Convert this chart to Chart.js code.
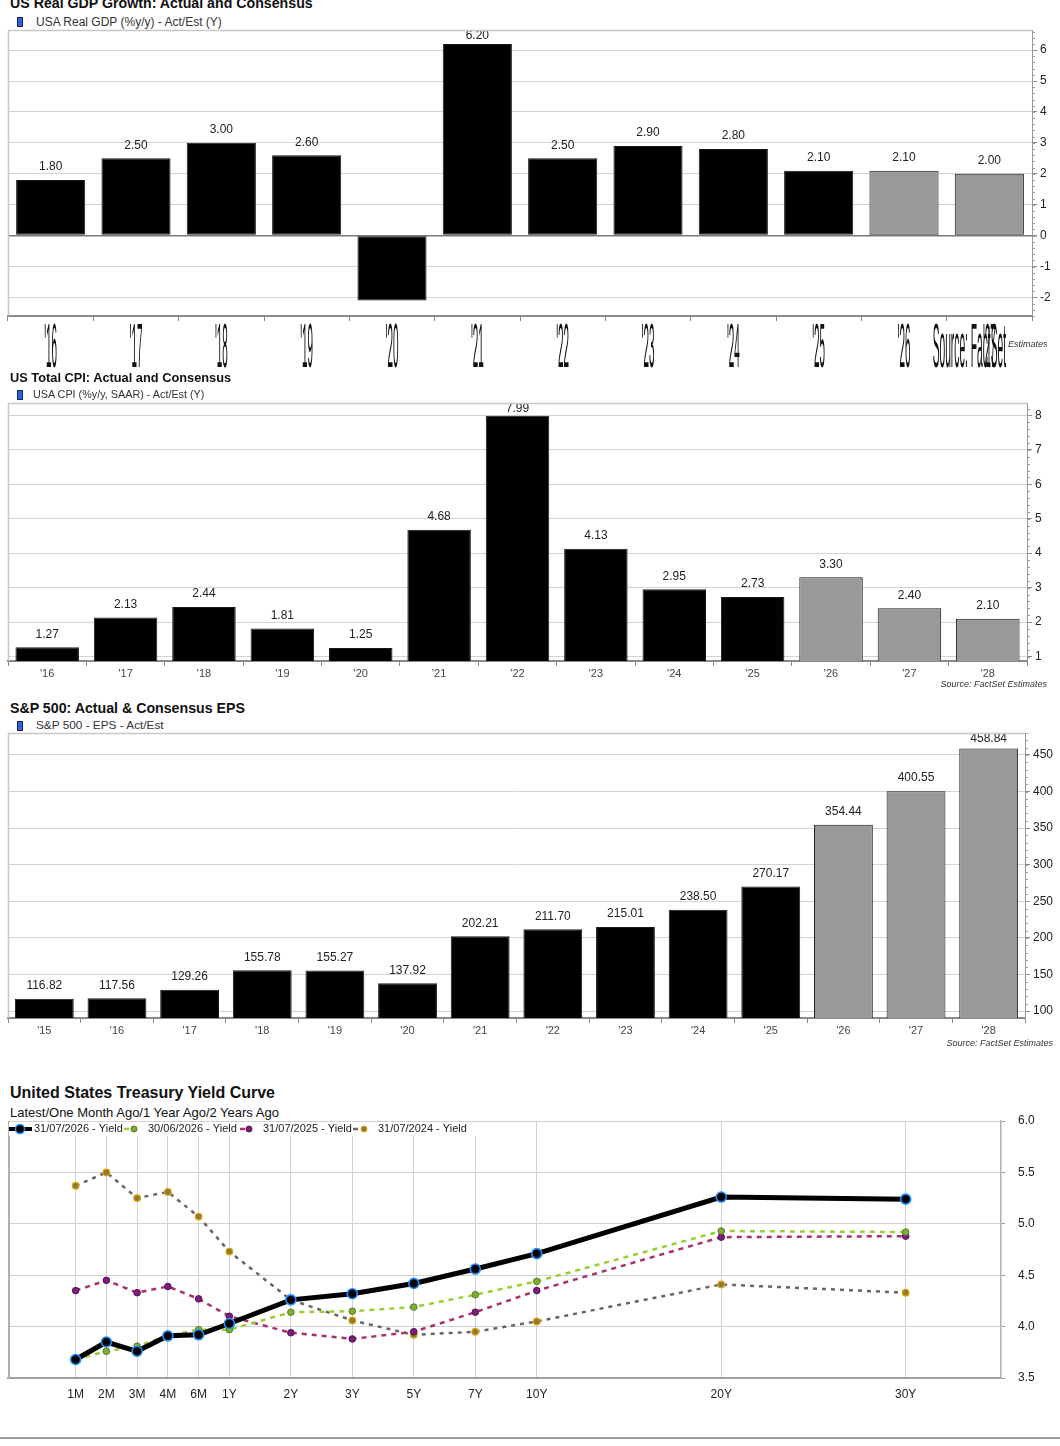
<!DOCTYPE html>
<html><head><meta charset="utf-8">
<script src="https://cdn.jsdelivr.net/npm/chart.js@4.4.1/dist/chart.umd.min.js"></script>
<style>
body{margin:0;background:#fff;width:1060px;height:1446px;position:relative;overflow:hidden;font-family:"Liberation Sans",Arial,Helvetica,sans-serif;}
.abs{position:absolute;white-space:nowrap;line-height:1;}
.title{font-weight:bold;color:#111;transform-origin:left center;}
.leg{color:#333;}
.icon{position:absolute;width:4px;height:8px;background:#2f62d8;border:1px solid #13275e;}
.src{position:absolute;font-style:italic;font-size:9px;color:#333;white-space:nowrap;line-height:1;}
canvas{position:absolute;left:0;}
</style></head><body>

<div class="abs title" style="left:10px;top:-4px;font-size:14.2px;">US Real GDP Growth: Actual and Consensus</div>
<div class="icon" style="left:17px;top:17px;"></div>
<div class="abs leg" style="left:36px;top:16px;font-size:12px;">USA Real GDP (%y/y) - Act/Est (Y)</div>
<canvas id="gdp" width="1060" height="344" style="top:28px;"></canvas>

<div class="abs title" style="left:10px;top:372px;font-size:12.8px;">US Total CPI: Actual and Consensus</div>
<div class="icon" style="left:17px;top:390px;"></div>
<div class="abs leg" style="left:33px;top:389px;font-size:10.8px;">USA CPI (%y/y, SAAR) - Act/Est (Y)</div>
<canvas id="cpi" width="1060" height="300" style="top:400px;"></canvas>
<div class="src" style="right:13px;top:680px;">Source: FactSet Estimates</div>

<div class="abs title" style="left:10px;top:701px;font-size:14.2px;">S&amp;P 500: Actual &amp; Consensus EPS</div>
<div class="icon" style="left:17px;top:721px;"></div>
<div class="abs leg" style="left:36px;top:720px;font-size:11.8px;">S&amp;P 500 - EPS - Act/Est</div>
<canvas id="eps" width="1053" height="330" style="top:730px;"></canvas>
<div class="src" style="right:7px;top:1039px;">Source: FactSet Estimates</div>

<div class="abs title" style="left:10px;top:1085px;font-size:16px;">United States Treasury Yield Curve</div>
<div class="abs" style="left:10px;top:1106px;font-size:13px;color:#111;">Latest/One Month Ago/1 Year Ago/2 Years Ago</div>
<canvas id="ust" width="1060" height="302" style="top:1108px;"></canvas>
<div style="position:absolute;left:0;top:1437px;width:1060px;height:2px;background:#9a9a9a;"></div>

<script>
// ---------------- DATA ----------------
const gdpYears  = ["'16","'17","'18","'19","'20","'21","'22","'23","'24","'25","'26","'27"];
const gdpValues = [1.80, 2.50, 3.00, 2.60, -2.10, 6.20, 2.50, 2.90, 2.80, 2.10, 2.10, 2.00];
const gdpType   = ['A','A','A','A','A','A','A','A','A','A','E','E'];

const cpiYears  = ["'16","'17","'18","'19","'20","'21","'22","'23","'24","'25","'26","'27","'28"];
const cpiValues = [1.27, 2.13, 2.44, 1.81, 1.25, 4.68, 7.99, 4.13, 2.95, 2.73, 3.30, 2.40, 2.10];
const cpiType   = ['A','A','A','A','A','A','A','A','A','A','E','E','E'];

const epsYears  = ["'15","'16","'17","'18","'19","'20","'21","'22","'23","'24","'25","'26","'27","'28"];
const epsValues = [116.82, 117.56, 129.26, 155.78, 155.27, 137.92, 202.21, 211.70, 215.01, 238.50, 270.17, 354.44, 400.55, 458.84];
const epsType   = ['A','A','A','A','A','A','A','A','A','A','A','E','E','E'];

const tenorLabels = ['1M','2M','3M','4M','6M','1Y','2Y','3Y','5Y','7Y','10Y','20Y','30Y'];
const tenorSlots  = [0, 1, 2, 3, 4, 5, 7, 9, 11, 13, 15, 21, 27];
const yieldDates  = ['31/07/2026 - Yield','30/06/2026 - Yield','31/07/2025 - Yield','31/07/2024 - Yield'];
const yieldLatest   = [3.68, 3.85, 3.76, 3.91, 3.92, 4.03, 4.26, 4.32, 4.42, 4.56, 4.71, 5.26, 5.24];
const yieldMonthAgo = [3.68, 3.76, 3.81, 3.91, 3.97, 3.97, 4.14, 4.15, 4.19, 4.31, 4.44, 4.93, 4.92];
const yieldYearAgo  = [4.35, 4.45, 4.33, 4.39, 4.27, 4.10, 3.94, 3.88, 3.95, 4.14, 4.35, 4.87, 4.88];
const yield2YrsAgo  = [5.37, 5.50, 5.25, 5.31, 5.07, 4.73, 4.26, 4.06, 3.92, 3.95, 4.05, 4.41, 4.33];

// ---------------- SETUP ----------------
const FONT = '"Liberation Sans", Arial, Helvetica, sans-serif';
Chart.defaults.font.family = FONT;
Chart.defaults.animation = false;
const ACT = '#000000', EST = '#999999';

function noPad(s){ s.paddingTop = 0; s.paddingBottom = 0; s.paddingLeft = 0; s.paddingRight = 0; }

const framePlugin = {
  id:'frame',
  afterDraw(chart){
    const {ctx, chartArea:a} = chart;
    ctx.save();
    ctx.strokeStyle = '#c8c8c8'; ctx.lineWidth = 1.5;
    ctx.beginPath();
    ctx.moveTo(a.left+0.5, a.bottom); ctx.lineTo(a.left+0.5, a.top+0.5); ctx.lineTo(a.right, a.top+0.5);
    ctx.stroke();
    ctx.restore();
  }
};

function minorPlugin(step){
  return {
    id:'minor',
    afterDraw(chart){
      const s = chart.scales.y, ctx = chart.ctx;
      ctx.save(); ctx.strokeStyle = '#999'; ctx.lineWidth = 1;
      const start = Math.ceil(s.min/step);
      for(let k=start; k*step<=s.max+1e-9; k++){
        const v = k*step;
        const y = Math.round(s.getPixelForValue(v))+0.5;
        ctx.beginPath(); ctx.moveTo(s.left, y); ctx.lineTo(s.left+3, y); ctx.stroke();
      }
      ctx.restore();
    }
  };
}

function labelPlugin(values){
  return {
    id:'vals',
    afterDatasetsDraw(chart){
      const ctx = chart.ctx, a = chart.chartArea;
      const meta = chart.getDatasetMeta(0);
      ctx.save();
      ctx.font = '12px ' + FONT; ctx.fillStyle = '#222';
      ctx.textAlign = 'center'; ctx.textBaseline = 'middle';
      meta.data.forEach((bar,i)=>{
        const v = values[i];
        if (v <= 0) return;
        const y = Math.max(bar.y - 13, a.top + 6);
        ctx.fillText(v.toFixed(2), bar.x, y);
      });
      ctx.restore();
    }
  };
}

function makeBar(id, o){
  const colors = o.types.map(t => t === 'E' ? EST : ACT);
  const plugins = [framePlugin, minorPlugin(o.minor), labelPlugin(o.values)];
  if (o.extra) plugins.push(o.extra);
  return new Chart(document.getElementById(id), {
    type:'bar',
    data:{ labels:o.labels, datasets:[{ data:o.values, backgroundColor:colors, borderColor:'#1a1a1a', borderWidth:1, borderSkipped:false, categoryPercentage:1, barPercentage:0.81 }]},
    options:{
      responsive:false, animation:false, devicePixelRatio:1,
      layout:{padding:{top:o.padTop, left:8, right:0, bottom:0}},
      plugins:{legend:{display:false}, tooltip:{enabled:false}, title:{display:false}},
      scales:{
        x:{
          grid:{offset:true, drawOnChartArea:false, drawTicks:true, tickLength:5, color:'#8a8a8a'},
          border:{display:true, color:'#8a8a8a', width:2},
          ticks:{display:o.showX, font:{size:11}, color:'#444', padding:1, maxRotation:0, autoSkip:false},
          afterFit(s){ s.height = o.xH; noPad(s); }
        },
        y:{
          position:'right', min:o.min, max:o.max,
          ticks:{stepSize:o.step, includeBounds:false, font:{size:12}, color:'#222', padding:3},
          grid:{color:c => (c.tick && c.tick.value === 0) ? '#7a7a7a' : '#d4d4d4',
                lineWidth:c => (c.tick && c.tick.value === 0) ? 1.5 : 1,
                tickColor:'#888', tickLength:5, drawTicks:true},
          border:{display:true, color:'#9a9a9a', width:1},
          afterFit(s){ s.width = o.yW; noPad(s); }
        }
      }
    },
    plugins
  });
}

// GDP stretched x labels + squashed source note
const gdpAxisText = {
  id:'gdpAxisText',
  afterDraw(chart){
    const ctx = chart.ctx, xs = chart.scales.x, a = chart.chartArea;
    const base = a.bottom + 51;
    ctx.save();
    ctx.fillStyle = '#111';
    ctx.font = '11px ' + FONT;
    ctx.textAlign = 'center'; ctx.textBaseline = 'alphabetic';
    gdpYears.forEach((lab,i)=>{
      const x = xs.getPixelForValue(i);
      ctx.save(); ctx.translate(x, base); ctx.scale(0.9, 5.7); ctx.fillText(lab, 0, 0); ctx.restore();
    });
    ctx.textAlign = 'right';
    ctx.save(); ctx.translate(1006, base); ctx.scale(0.93, 5.7); ctx.fillText('Source: FactSet', 0, 0); ctx.restore();
    ctx.textAlign = 'left';
    ctx.font = 'italic 9px ' + FONT; ctx.fillStyle = '#333';
    ctx.fillText('Estimates', 1008, a.bottom + 31);
    ctx.restore();
  }
};

makeBar('gdp', {labels:gdpYears, values:gdpValues, types:gdpType, min:-2.6, max:6.65, step:1, minor:0.2,
  xH:56, yW:28, padTop:2, showX:false, extra:gdpAxisText});
makeBar('cpi', {labels:cpiYears, values:cpiValues, types:cpiType, min:0.87, max:8.36, step:1, minor:0.2,
  xH:39, yW:33, padTop:3, showX:true});
makeBar('eps', {labels:epsYears, values:epsValues, types:epsType, min:90.5, max:480, step:50, minor:10,
  xH:42, yW:28, padTop:3, showX:true});

// ---------------- TREASURY ----------------
const toPts = arr => arr.map((v,i)=>({x:tenorSlots[i], y:v}));
const styles = [
  {line:'#000000', w:5,   dash:[],    r:5,   bg:'#000000', bd:'#1e90ff', bw:1.6},
  {line:'#9acd32', w:2.5, dash:[5,5], r:3.3, bg:'#7fae35', bd:'#557d22', bw:1},
  {line:'#a8326e', w:2.5, dash:[5,5], r:3.3, bg:'#7b1e7b', bd:'#551055', bw:1},
  {line:'#666666', w:2.5, dash:[4,5], r:3.3, bg:'#8c7a3c', bd:'#e0a400', bw:1.2}
];
const series = [yieldLatest, yieldMonthAgo, yieldYearAgo, yield2YrsAgo];

const ustLegend = {
  id:'ustLegend',
  afterDraw(chart){
    const ctx = chart.ctx, a = chart.chartArea;
    const cy = a.top + 8;
    ctx.save();
    ctx.fillStyle = '#fff';
    ctx.fillRect(a.left+1, a.top+1, 468, 14);
    ctx.strokeStyle = '#000'; ctx.lineWidth = 4; ctx.beginPath(); ctx.moveTo(9, cy); ctx.lineTo(32, cy); ctx.stroke();
    ctx.beginPath(); ctx.arc(20, cy, 4.5, 0, Math.PI*2); ctx.fillStyle = '#000'; ctx.fill();
    ctx.lineWidth = 1.5; ctx.strokeStyle = '#1e90ff'; ctx.stroke();
    const items = [[124,134,148],[240,249,263],[353,364,378]];
    items.forEach((it,k)=>{
      const st = styles[k+1];
      ctx.strokeStyle = st.line; ctx.lineWidth = 2.5;
      ctx.beginPath(); ctx.moveTo(it[0], cy); ctx.lineTo(it[0]+5, cy); ctx.stroke();
      ctx.beginPath(); ctx.arc(it[1], cy, 3, 0, Math.PI*2); ctx.fillStyle = st.bg; ctx.fill();
      ctx.lineWidth = 1; ctx.strokeStyle = st.bd; ctx.stroke();
    });
    ctx.font = '11px ' + FONT; ctx.fillStyle = '#222'; ctx.textBaseline = 'middle'; ctx.textAlign = 'left';
    ctx.fillText(yieldDates[0], 34, cy);
    items.forEach((it,k)=> ctx.fillText(yieldDates[k+1], it[2], cy));
    ctx.restore();
  }
};
const ustFrame = {
  id:'ustFrame',
  afterDraw(chart){
    const {ctx, chartArea:a} = chart;
    ctx.save(); ctx.strokeStyle = '#b0b0b0'; ctx.lineWidth = 2;
    ctx.beginPath(); ctx.moveTo(a.left+1, a.top); ctx.lineTo(a.left+1, a.bottom); ctx.stroke();
    ctx.restore();
  }
};

new Chart(document.getElementById('ust'), {
  type:'line',
  data:{ datasets: series.map((arr,k)=>({
    label: yieldDates[k], data: toPts(arr),
    borderColor: styles[k].line, borderWidth: styles[k].w, borderDash: styles[k].dash,
    pointRadius: styles[k].r, pointBackgroundColor: styles[k].bg, pointBorderColor: styles[k].bd,
    pointBorderWidth: styles[k].bw, tension:0, fill:false
  }))},
  options:{
    responsive:false, animation:false, devicePixelRatio:1,
    layout:{autoPadding:false, padding:{top:13, left:8, right:0, bottom:0}},
    plugins:{legend:{display:false}, tooltip:{enabled:false}},
    scales:{
      x:{
        type:'linear', min:-2.2, max:30.1,
        afterBuildTicks(s){ s.ticks = tenorSlots.map(v=>({value:v})); },
        ticks:{callback:(v,i)=>tenorLabels[i], autoSkip:false, maxRotation:0, font:{size:12}, color:'#222', padding:9},
        grid:{color:'#d2d2d2', drawTicks:false, lineWidth:1},
        border:{display:true, color:'#a0a0a0', width:2},
        afterFit(s){ s.height = 32; noPad(s); }
      },
      y:{
        position:'right', min:3.5, max:6.0,
        ticks:{stepSize:0.5, callback:v=>Number(v).toFixed(1), font:{size:12}, color:'#222', padding:13},
        grid:{color:'#d2d2d2', tickColor:'#999', tickLength:4, lineWidth:1},
        border:{display:true, color:'#b0b0b0', width:1.5},
        afterFit(s){ s.width = 59; noPad(s); }
      }
    }
  },
  plugins:[ustFrame, ustLegend]
});
</script>
</body></html>
